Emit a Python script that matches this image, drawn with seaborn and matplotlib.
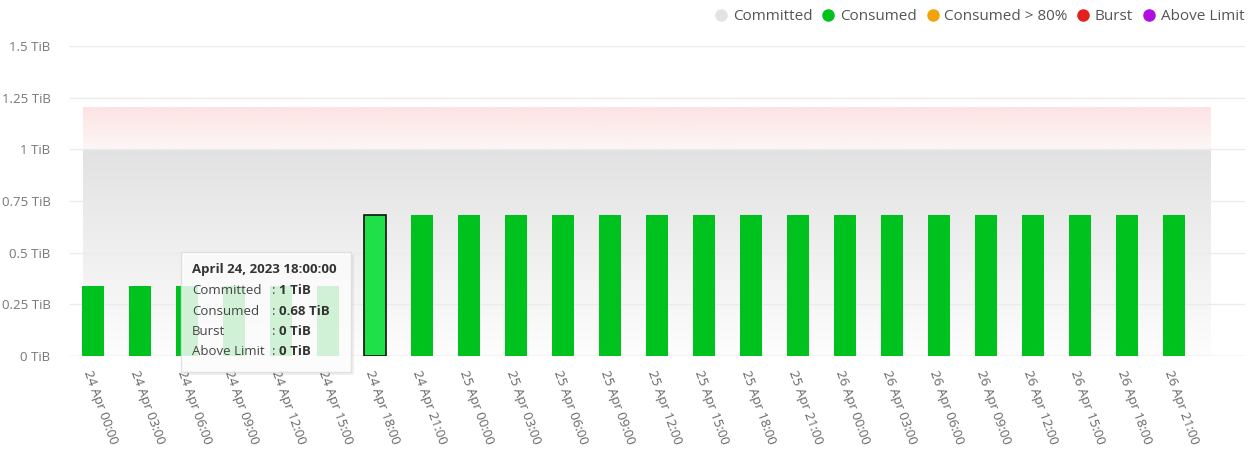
import matplotlib
matplotlib.use("Agg")
import matplotlib.pyplot as plt
from matplotlib.lines import Line2D
from matplotlib.patches import Rectangle
import numpy as np
import pandas as pd
import seaborn as sns

# ---- data ----
times = ["24 Apr 00:00", "24 Apr 03:00", "24 Apr 06:00", "24 Apr 09:00", "24 Apr 12:00",
         "24 Apr 15:00", "24 Apr 18:00", "24 Apr 21:00", "25 Apr 00:00", "25 Apr 03:00",
         "25 Apr 06:00", "25 Apr 09:00", "25 Apr 12:00", "25 Apr 15:00", "25 Apr 18:00",
         "25 Apr 21:00", "26 Apr 00:00", "26 Apr 03:00", "26 Apr 06:00", "26 Apr 09:00",
         "26 Apr 12:00", "26 Apr 15:00", "26 Apr 18:00", "26 Apr 21:00"]
consumed = [0.34, 0.34, 0.34, 0.34, 0.34, 0.34, 0.68, 0.68, 0.68, 0.68, 0.68, 0.68,
            0.68, 0.68, 0.68, 0.68, 0.68, 0.68, 0.68, 0.68, 0.68, 0.68, 0.68, 0.68]
committed = 1.0
burst_limit = 1.2
y_ticks = [0, 0.25, 0.5, 0.75, 1, 1.25, 1.5]
y_ticklabels = ["0 TiB", "0.25 TiB", "0.5 TiB", "0.75 TiB", "1 TiB", "1.25 TiB", "1.5 TiB"]
legend_labels = ["Committed", "Consumed", "Consumed > 80%", "Burst", "Above Limit"]
legend_colors = ["#e3e3e3", "#00c21f", "#f2a20c", "#e4201f", "#b10ee0"]
highlight = 6
tooltip_title = "April 24, 2023 18:00:00"
tooltip_keys = ["Committed", "Consumed", "Burst", "Above Limit"]
tooltip_vals = ["1 TiB", "0.68 TiB", "0 TiB", "0 TiB"]

df = pd.DataFrame({"time": times, "consumed": consumed})

sns.set_style("white")
plt.rcParams["font.family"] = ["Open Sans", "DejaVu Sans"]

W, H = 1258, 475
fig = plt.figure(figsize=(W / 100, H / 100), dpi=100)
ax = fig.add_axes([70 / W, 1 - 356 / H, (1245 - 70) / W, (356 - 46) / H])

sns.barplot(data=df, x="time", y="consumed", color="#00c21f", width=0.45,
            saturation=1, ax=ax, zorder=3)
for i, p in enumerate(ax.patches):
    p.set_edgecolor("none")
    if i == highlight:
        p.set_facecolor("#1fe049")
        p.set_edgecolor("#111111")
        p.set_linewidth(1.2)

# committed band (gray gradient) and burst band (pink gradient)
x0, x1 = -0.21, 23.77
grad = np.linspace(0, 1, 256)[:, None]
cmap_grey = matplotlib.colors.LinearSegmentedColormap.from_list("g", ["#fdfdfd", "#e2e2e2"])
ax.imshow(grad, extent=[x0, x1, 0, committed], origin="lower", aspect="auto",
          cmap=cmap_grey, zorder=0)
cmap_red = matplotlib.colors.LinearSegmentedColormap.from_list("r", ["#fdf6f6", "#fde3e3"])
ax.imshow(grad, extent=[x0, x1, committed, burst_limit], origin="lower", aspect="auto",
          cmap=cmap_red, zorder=0)

ax.set_xlim(-0.49, 24.51)
ax.set_ylim(0, 1.5)
ax.set_yticks(y_ticks)
ax.set_yticklabels(y_ticklabels, fontsize=9.5, color="#777777")
ax.yaxis.grid(True, color="#ebebeb", linewidth=1)
ax.set_axisbelow(True)
ax.set_xlabel("")
ax.set_ylabel("")
ax.set_xticks(range(len(times)))
ax.set_xticklabels(times, rotation=-70, ha="left", va="top", rotation_mode="anchor",
                   fontsize=9.5, color="#666666")
ax.tick_params(axis="x", length=0, pad=9)
ax.tick_params(axis="y", length=0, pad=14)
sns.despine(ax=ax, left=True, top=True, right=True, bottom=True)
ax.axhline(0, color="#dddddd", linewidth=1, zorder=1)

# legend
handles = [Line2D([], [], marker="o", linestyle="", markersize=8,
                  markerfacecolor=c, markeredgecolor=c) for c in legend_colors]
leg = fig.legend(handles, legend_labels, loc="upper right", bbox_to_anchor=(1.0, 1.01),
                 ncol=5, frameon=False, fontsize=11, handletextpad=0.25,
                 columnspacing=0.55, handlelength=1.0)
for t in leg.get_texts():
    t.set_color("#555555")

# tooltip
tl, tt, tr, tb = 181, 252, 351, 372
fig.patches.append(Rectangle(((tl + 3) / W, 1 - (tb + 3) / H), (tr - tl) / W, (tb - tt) / H,
                             transform=fig.transFigure, facecolor="#000000", alpha=0.06,
                             edgecolor="none", zorder=5))
fig.patches.append(Rectangle((tl / W, 1 - tb / H), (tr - tl) / W, (tb - tt) / H,
                             transform=fig.transFigure, facecolor="white", alpha=0.82,
                             edgecolor="#dcdcdc", linewidth=1, zorder=6))
fig.text(192 / W, 1 - 269 / H, tooltip_title, fontsize=9.5, fontweight="bold",
         color="#333333", va="center", zorder=7)
for k, (key, val) in enumerate(zip(tooltip_keys, tooltip_vals)):
    yy = 1 - (291 + 20.3 * k) / H
    fig.text(192 / W, yy, key, fontsize=9.5, color="#444444", va="center", zorder=7)
    fig.text(272 / W, yy, ":", fontsize=9.5, color="#444444", va="center", zorder=7)
    fig.text(279 / W, yy, val, fontsize=9.5, fontweight="bold", color="#333333",
             va="center", zorder=7)

fig.savefig("out.png", dpi=100)
